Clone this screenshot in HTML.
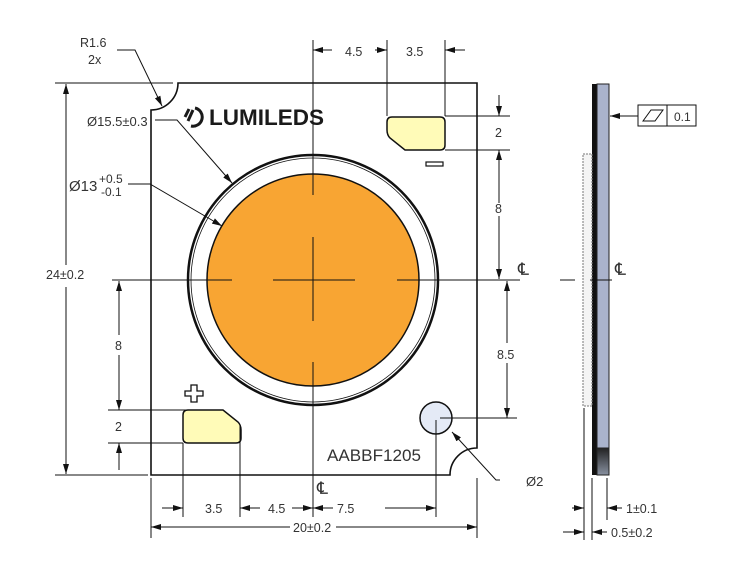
<!DOCTYPE html>
<html><head><meta charset="utf-8"><style>
html,body{margin:0;padding:0;background:#fff;width:730px;height:586px;overflow:hidden}
svg text{font-family:"Liberation Sans",sans-serif;fill:#333}
</style></head><body>
<svg width="730" height="586" viewBox="0 0 730 586" xmlns="http://www.w3.org/2000/svg" font-size="12.5">
<defs>
<marker id="a" viewBox="0 0 10 6" refX="10" refY="3" markerWidth="10" markerHeight="6" orient="auto-start-reverse" markerUnits="userSpaceOnUse"><path d="M0,0 L10,3 L0,6 z" fill="#111"/></marker>
<linearGradient id="g" x1="0" y1="0" x2="0" y2="1"><stop offset="0" stop-color="#222"/><stop offset="1" stop-color="#8890a0"/></linearGradient>
</defs>
<g stroke="#111" fill="none" stroke-width="1">
<path d="M151,475 L151,110 A27,27 0 0 0 178,83 L477,83 L477,448 A27,27 0 0 0 450,475 Z" stroke-width="1.6"/>
<circle cx="313" cy="280" r="125" stroke-width="2.5"/>
<circle cx="313" cy="280" r="122" stroke-width="0.8"/>
<circle cx="313" cy="280" r="106" fill="#f8a533" stroke-width="1.5"/>
<path d="M313,40 V195 M313,237 V321 M313,362 V517 M112,280 H232 M273,280 H355 M397,280 H520"/>
<path d="M392,117 H440 Q445,117 445,122 V145 Q445,150 440,150 H405 L390,138 Q387,135 387,130 V122 Q387,117 392,117 Z" fill="#fffbb8" stroke-width="1.5"/>
<rect x="426" y="162" width="17" height="4" stroke-width="1.2"/>
<path d="M188,410 H223 L238,422 Q241,425 241,430 V438 Q241,443 236,443 H188 Q183,443 183,438 V415 Q183,410 188,410 Z" fill="#fffbb8" stroke-width="1.5"/>
<path d="M191,385 h6 v6 h6 v5 h-6 v6 h-6 v-6 h-6 v-5 h6 z" stroke-width="1.3"/>
<circle cx="436" cy="418" r="16" fill="#e4eaf6" stroke-width="1.5"/>
<rect x="592" y="84" width="5" height="391" fill="#111" stroke="none"/>
<rect x="597" y="84" width="12" height="364" fill="#aab3cc" stroke="#222"/>
<rect x="597" y="448" width="12" height="27" fill="url(#g)" stroke="#222"/>
<rect x="583" y="154" width="9" height="252" fill="#f4f4f4" stroke="#777" stroke-dasharray="2,1"/>
<path d="M560,280 H575 M590,280 H612"/>
<rect x="638" y="105" width="58" height="21"/>
<path d="M667,105 V126 M643,121 L651,110 H663 L655,121 Z"/>
<path d="M638,116 H610" marker-end="url(#a)"/>
<path d="M387,40 V116 M445,40 V116"/>
<path d="M332,50 H313" marker-end="url(#a)"/>
<path d="M375,50 H387" marker-end="url(#a)"/>
<path d="M465,50 H445" marker-end="url(#a)"/>
<path d="M445,116 H510 M445,150 H510 M440,418 H517"/>
<path d="M499,95 V116" marker-end="url(#a)"/>
<path d="M499,203 V150" marker-end="url(#a)"/>
<path d="M499,216 V279" marker-end="url(#a)"/>
<path d="M507,343 V281" marker-end="url(#a)"/>
<path d="M507,363 V418" marker-end="url(#a)"/>
<path d="M55,83 H173 M55,475 H148 M108,410 H190 M108,443 H183"/>
<path d="M66,265 V84" marker-end="url(#a)"/>
<path d="M66,287 V474" marker-end="url(#a)"/>
<path d="M119,335 V281" marker-end="url(#a)"/>
<path d="M119,355 V410" marker-end="url(#a)"/>
<path d="M119,470 V443" marker-end="url(#a)"/>
<path d="M151,478 V538 M183,443 V517 M240,425 V517 M436,420 V517 M477,478 V538"/>
<path d="M162,508 H183" marker-end="url(#a)"/>
<path d="M260,508 H240" marker-end="url(#a)"/>
<path d="M292,508 H313" marker-end="url(#a)"/>
<path d="M333,508 H313" marker-end="url(#a)"/>
<path d="M385,508 H436" marker-end="url(#a)"/>
<path d="M290,527 H151" marker-end="url(#a)"/>
<path d="M336,527 H477" marker-end="url(#a)"/>
<path d="M584,408 V540 M592,478 V540 M607,478 V520"/>
<path d="M572,508 H584" marker-end="url(#a)"/>
<path d="M622,508 H607" marker-end="url(#a)"/>
<path d="M563,532 H584" marker-end="url(#a)"/>
<path d="M607,532 H592" marker-end="url(#a)"/>
<path d="M117,50 H135 L162,106" marker-end="url(#a)"/>
<path d="M155,120 H177 L232,183" marker-end="url(#a)"/>
<path d="M128,184 H150 L222,226" marker-end="url(#a)"/>
<path d="M500,480 H496 L452,432" marker-end="url(#a)"/>
</g>
<text x="80" y="47">R1.6</text>
<text x="88" y="64">2x</text>
<text x="87" y="126" style="font-size:13px">Ø15.5±0.3</text>
<text x="69" y="191" style="font-size:15px">Ø13</text>
<text x="99" y="183" style="font-size:12px">+0.5</text>
<text x="101" y="196" style="font-size:12px">-0.1</text>
<text x="46" y="279">24±0.2</text>
<text x="115" y="350">8</text>
<text x="115" y="431">2</text>
<text x="345" y="56">4.5</text>
<text x="406" y="56">3.5</text>
<text x="495" y="137">2</text>
<text x="495" y="213">8</text>
<text x="497" y="359">8.5</text>
<text x="518" y="275" style="font-size:17px">℄</text>
<text x="615" y="275" style="font-size:17px">℄</text>
<text x="317" y="494" style="font-size:17px">℄</text>
<text x="205" y="513">3.5</text>
<text x="268" y="513">4.5</text>
<text x="337" y="513">7.5</text>
<text x="293" y="532">20±0.2</text>
<text x="526" y="486" style="font-size:13px">Ø2</text>
<text x="626" y="513">1±0.1</text>
<text x="611" y="537">0.5±0.2</text>
<text x="674" y="121" style="font-size:12px">0.1</text>
<text x="327" y="461" style="font-size:16.5px" textLength="94" lengthAdjust="spacingAndGlyphs">AABBF1205</text>
<text x="209" y="125" style="font-size:22px;font-weight:bold;fill:#1a1a1a" textLength="115" lengthAdjust="spacingAndGlyphs">LUMILEDS</text>
<g stroke="#1a1a1a" stroke-width="3" fill="none">
<path d="M195,108 A9,9 0 1 1 191,126"/>
<path d="M189,109 L185,117 M193,110 L188,121"/>
</g>
</svg>
</body></html>
